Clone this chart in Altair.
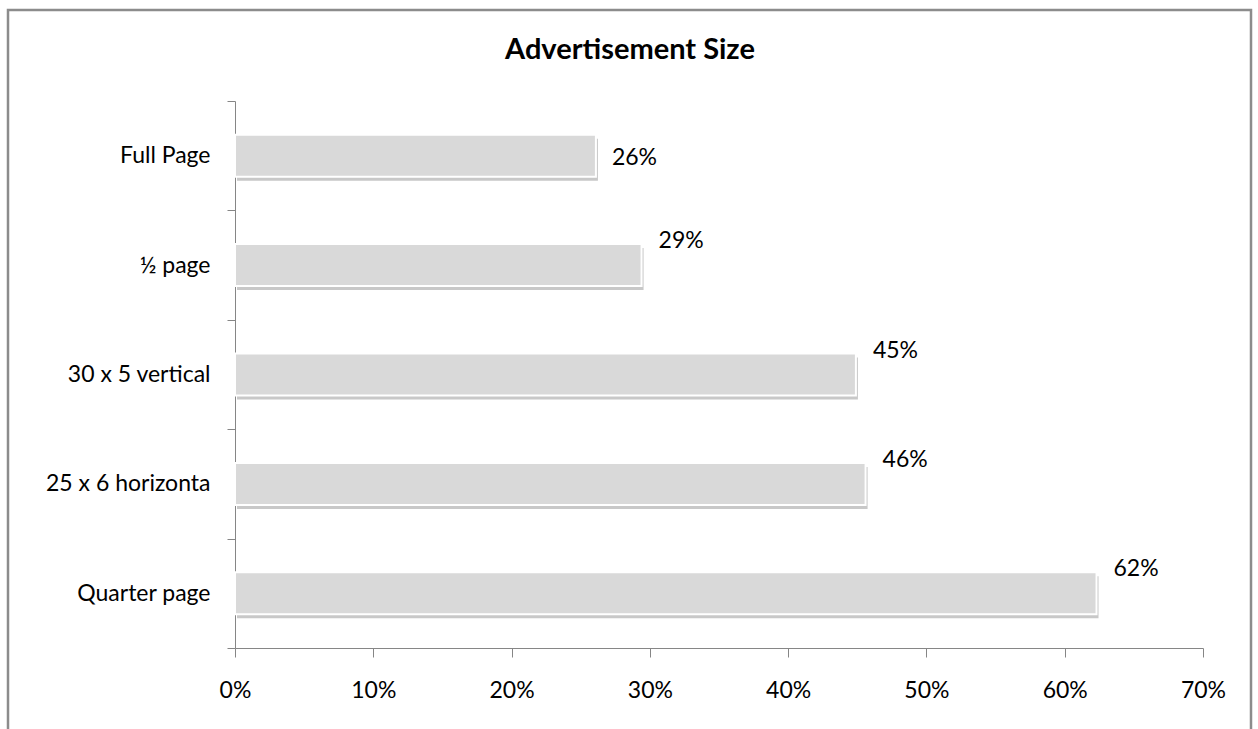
import altair as alt
import pandas as pd

categories = ["Full Page", "½ page", "30 x 5 vertical", "25 x 6 horizonta", "Quarter page"]
values = [0.261, 0.294, 0.449, 0.456, 0.623]

df = pd.DataFrame({"cat": categories, "val": values})

FONT = "Lato"
W, H = 968, 547

y_enc = alt.Y("cat:N", sort=categories,
              scale=alt.Scale(paddingInner=0, paddingOuter=0),
              axis=alt.Axis(title=None, labelFontSize=23, labelFont=FONT, labelColor="#000000",
                            labelPadding=17, tickSize=8, tickBand="extent", tickColor="#868686",
                            domainColor="#868686", labelLimit=300))
x_enc = alt.X("val:Q", scale=alt.Scale(domain=[0, 0.7], nice=False),
              axis=alt.Axis(title=None, format=".0%", values=[0, 0.1, 0.2, 0.3, 0.4, 0.5, 0.6, 0.7],
                            labelFontSize=23, labelFont=FONT, labelColor="#000000",
                            tickSize=9, labelPadding=22, tickColor="#868686", domainColor="#868686",
                            grid=False, labelFlush=False))

base = alt.Chart(df)

shadow = base.mark_bar(size=42, color="#9a9a9a", opacity=0.55, xOffset=2, yOffset=4).encode(
    x=x_enc, y=y_enc)
bars = base.mark_bar(size=42, color="#d9d9d9", stroke="#ffffff", strokeWidth=2).encode(
    x="val:Q", y=alt.Y("cat:N", sort=categories))

lab_first = base.transform_filter(alt.datum.cat == categories[0]).mark_text(
    align="left", baseline="middle", dx=16, dy=2, fontSize=23, font=FONT, color="#000000").encode(
    x="val:Q", y=alt.Y("cat:N", sort=categories), text=alt.Text("val:Q", format=".0%"))
lab_rest = base.transform_filter(alt.datum.cat != categories[0]).mark_text(
    align="left", baseline="middle", dx=17, dy=-24, fontSize=23, font=FONT, color="#000000").encode(
    x="val:Q", y=alt.Y("cat:N", sort=categories), text=alt.Text("val:Q", format=".0%"))

frame = alt.Chart(pd.DataFrame({"a": [0]})).mark_rect(
    fill=None, stroke="#8c8c8c", strokeWidth=2.5).encode(
    x=alt.value(-227), x2=alt.value(1016), y=alt.value(-91), y2=alt.value(650))

chart = alt.layer(frame, shadow, bars, lab_first, lab_rest).properties(
    width=W, height=H,
    background="#ffffff",
    title=alt.Title("Advertisement Size", font=FONT, fontSize=29, fontWeight="bold",
                    color="#000000", anchor="middle", dx=-89, offset=-79, baseline="alphabetic"),
    autosize=alt.AutoSizeParams(type="none"),
    padding={"left": 235, "top": 101, "right": 55, "bottom": 81},
).configure_view(strokeWidth=0, stroke=None)

chart.save("out.html", embed_options={"renderer": "svg", "actions": False})
